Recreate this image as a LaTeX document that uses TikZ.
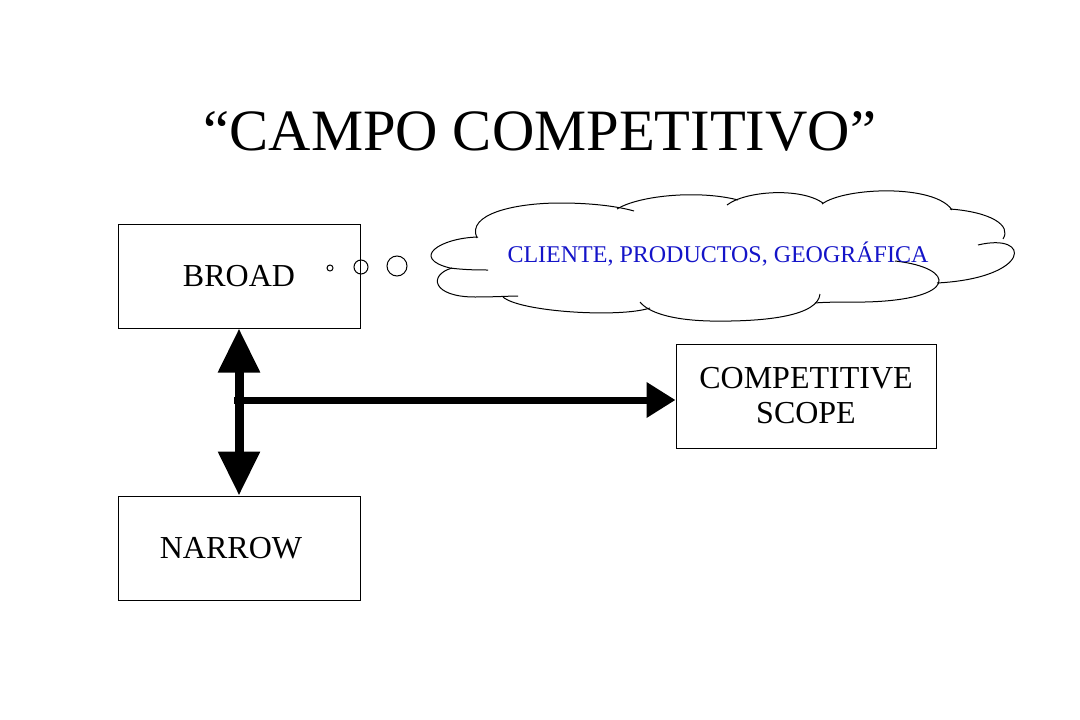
\documentclass[tikz,border=0pt]{standalone}
\usepackage{fontspec}
\setmainfont{Liberation Serif}
\usetikzlibrary{arrows.meta}
\definecolor{cloudblue}{RGB}{20,20,200}
\begin{document}
\begin{tikzpicture}[x=1pt,y=-1pt,
  box/.style={draw,line width=1pt,minimum width=242pt,minimum height=104pt,inner sep=0pt,font=\fontsize{32}{35}\selectfont,align=center},
  bubble/.style={circle,draw,line width=1pt,inner sep=0pt},
  puff/.style={line width=1pt},
  ]
\useasboundingbox (0,0) rectangle (1080,720);
\node[font=\fontsize{58.6}{60}\selectfont,anchor=base] (title) at (540,150) {“CAMPO COMPETITIVO”};
\node[box] (broad) at (239,276) {BROAD};
\node[box] (narrow) at (239,548) {NARROW\hspace*{16pt}};
\node[box,minimum width=260pt] (scope) at (806,396) {COMPETITIVE\\SCOPE};
% cloud outline (puffs)
\draw[puff] (477,238) .. controls (466,214) and (515,203) .. (560,203) .. controls (595,203) and (620,207) .. (634,211);
\draw[puff] (617,209) .. controls (640,195) and (700,190) .. (738,200);
\draw[puff] (727,205) .. controls (745,191) and (800,187) .. (823,203);
\draw[puff] (822,204) .. controls (845,187) and (935,184) .. (952,210);
\draw[puff] (950,209) .. controls (990,212) and (1012,225) .. (1003,239);
\draw[puff] (978,245) .. controls (1032,232) and (1032,278) .. (937,283);
\draw[puff] (895,261) .. controls (958,268) and (958,300) .. (865,302) .. controls (845,302) and (825,302) .. (815,303);
\draw[puff] (820,294) .. controls (818,315) and (770,322) .. (710,321) .. controls (670,320) and (648,312) .. (640,302);
\draw[puff] (503,297) .. controls (520,312) and (620,318) .. (650,308);
\draw[puff] (452,268) .. controls (428,275) and (432,297) .. (475,297) .. controls (495,297) and (510,296) .. (518,296);
\draw[puff] (478,237) .. controls (440,238) and (410,258) .. (450,268) .. controls (465,270) and (480,270) .. (488,270);
\node[text=cloudblue,font=\fontsize{24}{26}\selectfont] (cloudtext) at (718,254) {CLIENTE, PRODUCTOS, GEOGRÁFICA};
\node[bubble,minimum size=6pt] (b1) at (330,268) {};
\node[bubble,minimum size=14pt] (b2) at (361,267) {};
\node[bubble,minimum size=20pt] (b3) at (397,266) {};
\draw[line width=9pt,{Triangle[length=44pt,width=40pt]}-{Triangle[length=44pt,width=40pt]}] (broad.south) -- (narrow.north);
\coordinate (fork) at (234,400);
\draw[line width=7pt,-{Triangle[length=29pt,width=34pt]}] (fork) -- (scope.west |- fork);
\end{tikzpicture}
\end{document}
